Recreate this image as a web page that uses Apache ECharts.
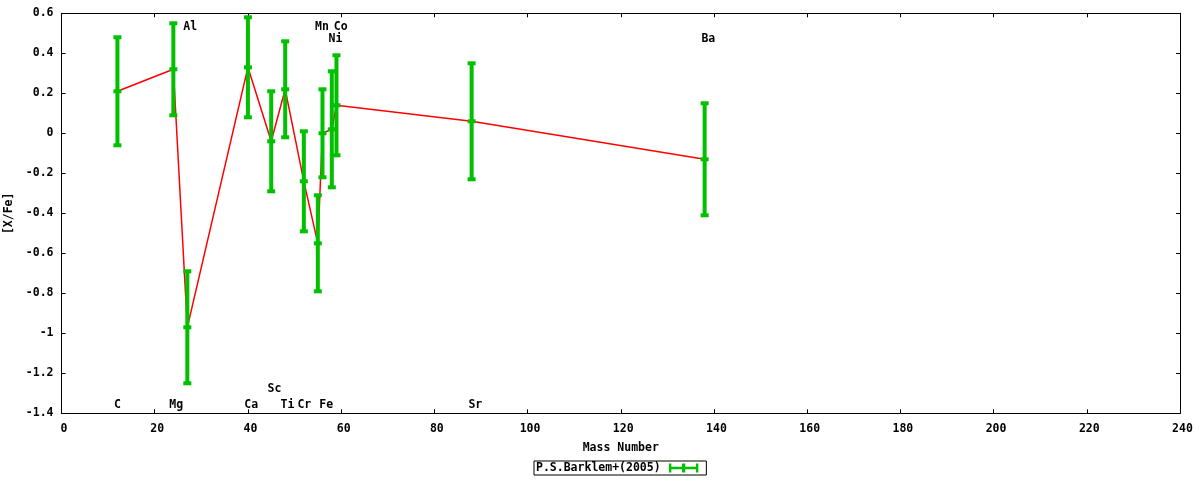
<!DOCTYPE html>
<html>
<head>
<meta charset="utf-8">
<script src="https://cdn.jsdelivr.net/npm/echarts@6/dist/echarts.min.js"></script>
<style>html,body{margin:0;padding:0;background:#fff;}#c{width:1200px;height:480px;}</style>
</head>
<body>
<div id="c"></div>
<script>
// Data (mass number, [X/Fe], error)
const elements = ['C','Mg','Al','Ca','Sc','Ti','Cr','Mn','Fe','Ni','Co','Sr','Ba'];
const massNumbers = [12, 24, 27, 40, 45, 48, 52, 55, 56, 58, 59, 88, 138];
const xfeValues = [0.21, 0.32, -0.97, 0.33, -0.04, 0.22, -0.24, -0.55, 0.00, 0.02, 0.14, 0.06, -0.13];
const xfeErrors = [0.27, 0.23, 0.28, 0.25, 0.25, 0.24, 0.25, 0.24, 0.22, 0.29, 0.25, 0.29, 0.28];

// Element name labels (text, x, y in data units)
const labelTexts = ['C','Mg','Al','Ca','Sc','Ti','Cr','Fe','Mn','Co','Ni','Sr','Ba'];
const labelXs = [12, 24.6, 27.6, 40.7, 45.7, 48.5, 52.1, 56.8, 55.9, 59.9, 58.8, 88.8, 138.8];
const labelYs = [-1.36, -1.36, 0.53, -1.36, -1.28, -1.36, -1.36, -1.36, 0.53, 0.53, 0.47, -1.36, 0.47];

const xTicks = {min: 0, max: 240, interval: 20};
const yTicks = {min: -1.4, max: 0.6, interval: 0.2};

const seriesName = 'P.S.Barklem+(2005)';
const GREEN = '#00c000';
const RED = '#ff0000';
const FONT = 'DejaVu Sans Mono';
const FS = 11.5;

const lineData = massNumbers.map((m, i) => [m, xfeValues[i]]);
const errData = massNumbers.map((m, i) => [m, xfeValues[i], xfeErrors[i]]);
const labelData = labelTexts.map((t, i) => [labelXs[i], labelYs[i], t]);

const chart = echarts.init(document.getElementById('c'));
const axisLine = {show: true, onZero: false, lineStyle: {color: '#000', width: 1}};
const tick = {show: true, inside: true, length: 4, lineStyle: {color: '#000'}};
const lblStyle = {color: '#000', fontFamily: FONT, fontWeight: 'bold', fontSize: FS};

chart.setOption({
  animation: false,
  backgroundColor: '#fff',
  textStyle: {fontFamily: FONT, fontWeight: 'bold', fontSize: FS, color: '#000'},
  grid: {left: 61.5, right: 20, top: 13.3, bottom: 66.7, containLabel: false, outerBoundsMode: 'none'},
  legend: {
    data: [{name: seriesName, icon: 'path://M0,4H36V7H0Z M0,0H3V11H0Z M33,0H36V11H33Z M16,0H20V11H16Z'}],
    left: 534, top: 461, align: 'right', itemWidth: 36, itemHeight: 9,
    padding: [1, 8, 1, 2], borderColor: '#000', borderWidth: 1,
    itemStyle: {color: GREEN},
    textStyle: {fontFamily: FONT, fontWeight: 'bold', fontSize: FS, color: '#000'},
    selectedMode: false
  },
  xAxis: [{
    type: 'value', min: xTicks.min, max: xTicks.max, interval: xTicks.interval,
    position: 'bottom', name: 'Mass Number', nameLocation: 'middle', nameGap: 29,
    nameTextStyle: lblStyle,
    axisLine, axisTick: tick, splitLine: {show: false},
    axisLabel: Object.assign({margin: 10, padding: [0, 0, 0, 5]}, lblStyle)
  }, {
    type: 'value', min: xTicks.min, max: xTicks.max, interval: xTicks.interval,
    position: 'top', axisLine, axisTick: tick, splitLine: {show: false},
    axisLabel: {show: false}
  }],
  yAxis: [{
    type: 'value', min: yTicks.min, max: yTicks.max, interval: yTicks.interval,
    position: 'left', name: '[X/Fe]', nameLocation: 'middle', nameGap: 36, nameRotate: 90,
    nameTextStyle: lblStyle,
    axisLine, axisTick: tick, splitLine: {show: false},
    axisLabel: Object.assign({margin: 8, padding: [4, 0, 0, 0], formatter: v => (Math.round(v * 10) / 10).toString()}, lblStyle)
  }, {
    type: 'value', min: yTicks.min, max: yTicks.max, interval: yTicks.interval,
    position: 'right', axisLine, axisTick: tick, splitLine: {show: false},
    axisLabel: {show: false}
  }],
  series: [{
    type: 'line', name: 'line', data: lineData, showSymbol: false, symbol: 'none',
    lineStyle: {color: RED, width: 1.5}, z: 2, silent: true
  }, {
    type: 'custom', name: seriesName, data: errData, encode: {x: 0, y: 1}, z: 3,
    itemStyle: {color: GREEN}, silent: true,
    renderItem: function (params, api) {
      const x = api.value(0), y = api.value(1), e = api.value(2);
      const top = api.coord([x, y + e]);
      const bot = api.coord([x, y - e]);
      const mid = api.coord([x, y]);
      const style = {fill: GREEN};
      return {type: 'group', children: [
        {type: 'rect', shape: {x: mid[0] - 2, y: top[1], width: 4, height: bot[1] - top[1]}, style},
        {type: 'rect', shape: {x: mid[0] - 4, y: top[1] - 2, width: 8, height: 4}, style},
        {type: 'rect', shape: {x: mid[0] - 4, y: bot[1] - 2, width: 8, height: 4}, style},
        {type: 'rect', shape: {x: mid[0] - 4, y: mid[1] - 2, width: 8, height: 4}, style}
      ]};
    }
  }, {
    type: 'custom', name: 'labels', data: labelData, encode: {x: 0, y: 1}, z: 4, silent: true,
    renderItem: function (params, api) {
      const p = api.coord([api.value(0), api.value(1)]);
      const t = labelData[params.dataIndex][2];
      return {type: 'text', x: p[0], y: p[1], style: {
        text: t, fill: '#000', align: 'center', verticalAlign: 'middle',
        font: 'bold ' + FS + 'px "' + FONT + '"'
      }};
    }
  }]
});
</script>
</body>
</html>
